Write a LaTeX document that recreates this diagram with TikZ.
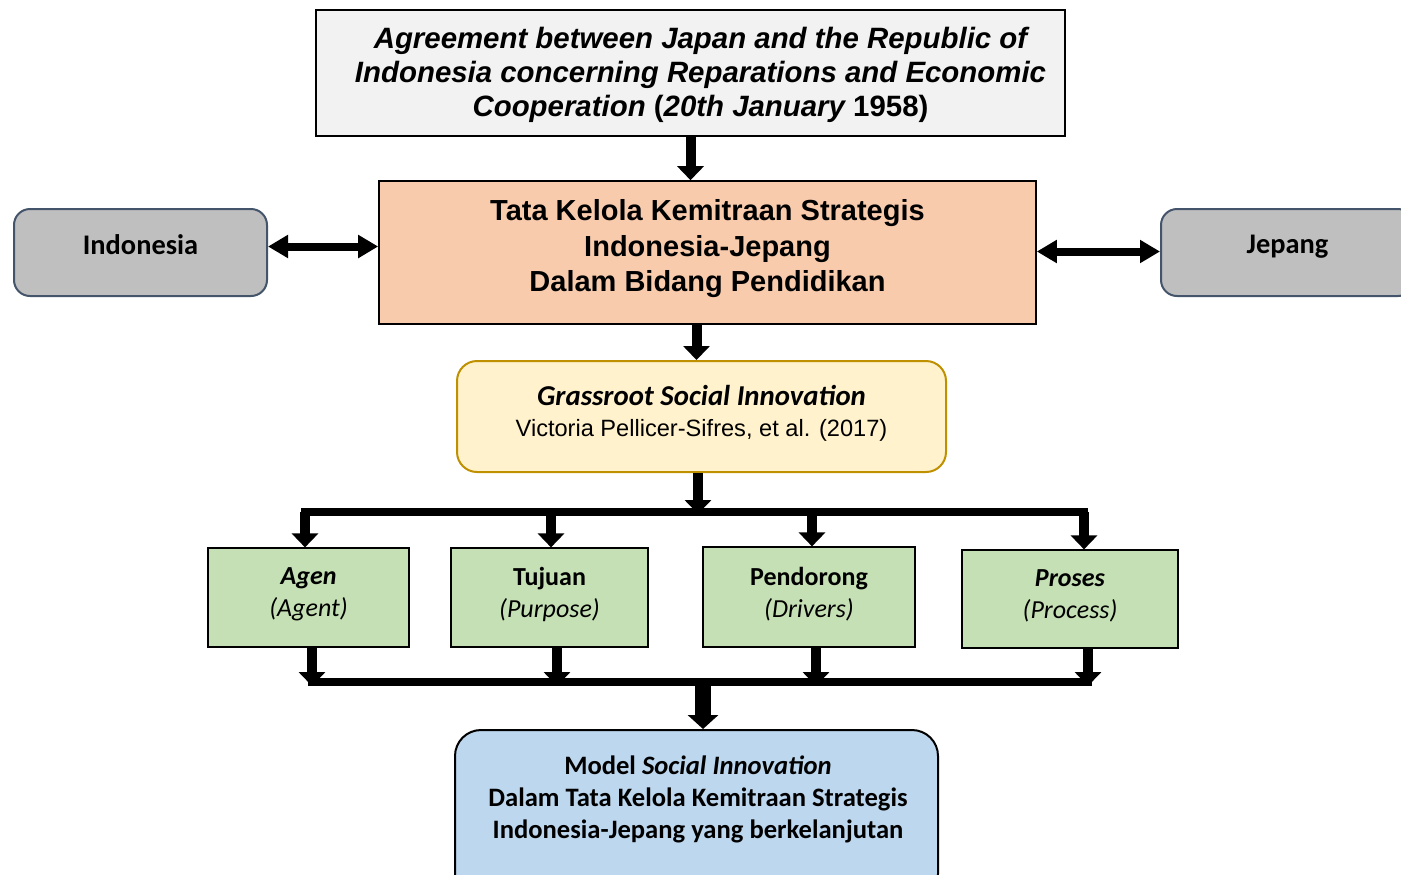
\documentclass[tikz,border=0pt]{standalone}
\usepackage{fontspec}
\setmainfont{Liberation Sans}
\newfontfamily\calibri{Carlito}
\usetikzlibrary{arrows.meta, positioning, calc}
\definecolor{AgreeGray}{RGB}{242, 242, 242}
\definecolor{Peach}{RGB}{248, 203, 173}
\definecolor{Slate}{RGB}{68, 84, 106}
\definecolor{Stone}{RGB}{191, 191, 191}
\definecolor{Cream}{RGB}{255, 242, 204}
\definecolor{Gold}{RGB}{191, 144, 0}
\definecolor{Sage}{RGB}{197, 224, 180}
\definecolor{SkyBlue}{RGB}{189, 215, 238}

\begin{document}
\begin{tikzpicture}[x=0.5pt, y=-0.5pt,
        topbox/.style={rectangle, draw=black, line width=0.8pt, fill=AgreeGray, minimum width=374.5pt, minimum height=63pt, inner sep=0pt},
        corebox/.style={rectangle, draw=black, line width=0.8pt, fill=Peach, minimum width=328.5pt, minimum height=71.5pt, inner sep=0pt},
        sidebox/.style={rectangle, rounded corners=8pt, draw=Slate, line width=1pt, fill=Stone, minimum width=126.5pt, minimum height=43.5pt, inner sep=0pt},
        sidetext/.style={yshift=4pt, font=\calibri\fontsize{14.2}{17}\selectfont\bfseries},
        theorybox/.style={rectangle, rounded corners=10pt, draw=Gold, line width=1pt, fill=Cream, minimum width=244.5pt, minimum height=55.5pt, inner sep=0pt},
        elembox/.style={rectangle, draw=black, line width=0.6pt, fill=Sage, minimum height=49.5pt, inner sep=0pt},
        elemtext/.style={align=center, yshift=1.5pt, font=\calibri\fontsize{13}{16}\selectfont},
        modelbox/.style={rectangle, rounded corners=13pt, draw=black, line width=1pt, fill=SkyBlue, minimum width=241.5pt, minimum height=85pt, inner sep=0pt},
        arrow/.style={line width=5pt, -{Triangle[length=7pt, width=13pt]}},
        bigarrow/.style={line width=8pt, -{Triangle[length=7pt, width=15pt]}},
        dblarrow/.style={line width=4pt, {Triangle[length=10pt, width=11pt]}-{Triangle[length=10pt, width=11pt]}},
        bus/.style={line width=4pt, line cap=rect}
    ]
        \clip (0,0) rectangle (1401,874);
        % boxes
        \node[topbox, label={[align=center, xshift=5pt, yshift=-1pt, font=\fontsize{14.7}{17}\selectfont\bfseries\itshape]center:Agreement between Japan and the Republic of\\Indonesia concerning Reparations and Economic\\Cooperation {\upshape(}20th January {\upshape 1958)}}] (agree) at (690.5,73) {};
        \node[corebox, label={[align=center, yshift=1.8pt, font=\fontsize{14.5}{17.75}\selectfont\bfseries]center:Tata Kelola Kemitraan Strategis\\Indonesia-Jepang\\Dalam Bidang Pendidikan}] (core) at (707.5,252.5) {};
        \node[sidebox, label={[sidetext]center:Indonesia}] (indo) at (140.5,252.5) {};
        \node[sidebox, label={[sidetext, yshift=-1pt]center:Jepang}] (jepang) at (1287.5,252.5) {};
        \node[theorybox, label={[align=center, yshift=1.5pt]center:{\calibri\fontsize{14.4}{16}\selectfont\bfseries\itshape Grassroot Social Innovation}\\[3.5pt]{\fontsize{11.8}{16}\selectfont Victoria Pellicer-Sifres, et al. (2017)}}] (gsi) at (701.5,416.5) {};
        \node[elembox, minimum width=100.5pt, label={[elemtext]center:\textbf{\textit{Agen}}\\\textit{(Agent)}}] (agen) at (308.5,597.5) {};
        \node[elembox, minimum width=98.5pt, label={[elemtext]center:\textbf{Tujuan}\\\textit{(Purpose)}}] (tujuan) at (549.5,597.5) {};
        \node[elembox, minimum width=106pt, minimum height=50pt, label={[elemtext]center:\textbf{Pendorong}\\\textit{(Drivers)}}] (pendorong) at (809,597) {};
        \node[elembox, minimum width=108pt, minimum height=49pt, label={[elemtext]center:\textbf{\textit{Proses}}\\\textit{(Process)}}] (proses) at (1070,599) {};
        \node[modelbox, anchor=north] (model) at (696.5,729) {};
        \node[align=center, font=\calibri\fontsize{13.3}{16}\selectfont\bfseries] (modeltext) at (698,799) {Model \textit{Social Innovation}\\Dalam Tata Kelola Kemitraan Strategis\\Indonesia-Jepang yang berkelanjutan};
        % bus points
        \coordinate (cs) at ([xshift=-5.5pt]core.south);
        \coordinate (u1) at (305,512);
        \coordinate (u2) at (551,512);
        \coordinate (u3) at (812,512);
        \coordinate (u4) at (1084,512);
        \coordinate (d1) at (312,682);
        \coordinate (d2) at (557,682);
        \coordinate (d3) at (816,682);
        \coordinate (d4) at (1088,682);
        \coordinate (ugsi) at (698,514);
        \coordinate (dmid) at (703,680);
        % connectors
        \draw[arrow] (agree.south) -- (agree.south |- core.north);
        \draw[arrow] (cs) -- (cs |- gsi.north);
        \draw[dblarrow] ([yshift=3pt]indo.east) -- ([yshift=3pt]indo.east -| core.west);
        \draw[dblarrow] ([yshift=0.5pt]core.east) -- ([yshift=0.5pt]jepang.west);
        \draw[bus] (u1) -- (u4);
        \draw[arrow] (gsi.south -| ugsi) -- (ugsi);
        \draw[arrow] (u1) -- (u1 |- agen.north);
        \draw[arrow] (u2) -- (u2 |- tujuan.north);
        \draw[arrow] (u3) -- (u3 |- pendorong.north);
        \draw[arrow] (u4) -- (u4 |- proses.north);
        \draw[bus] (d1) -- (d4);
        \draw[arrow] (agen.south -| d1) -- ([yshift=-2pt]d1);
        \draw[arrow] (tujuan.south -| d2) -- ([yshift=-2pt]d2);
        \draw[arrow] (pendorong.south -| d3) -- ([yshift=-2pt]d3);
        \draw[arrow] (proses.south -| d4) -- ([yshift=-2pt]d4);
        \draw[bigarrow] (dmid) -- (dmid |- model.north);
    \end{tikzpicture}
\end{document}
